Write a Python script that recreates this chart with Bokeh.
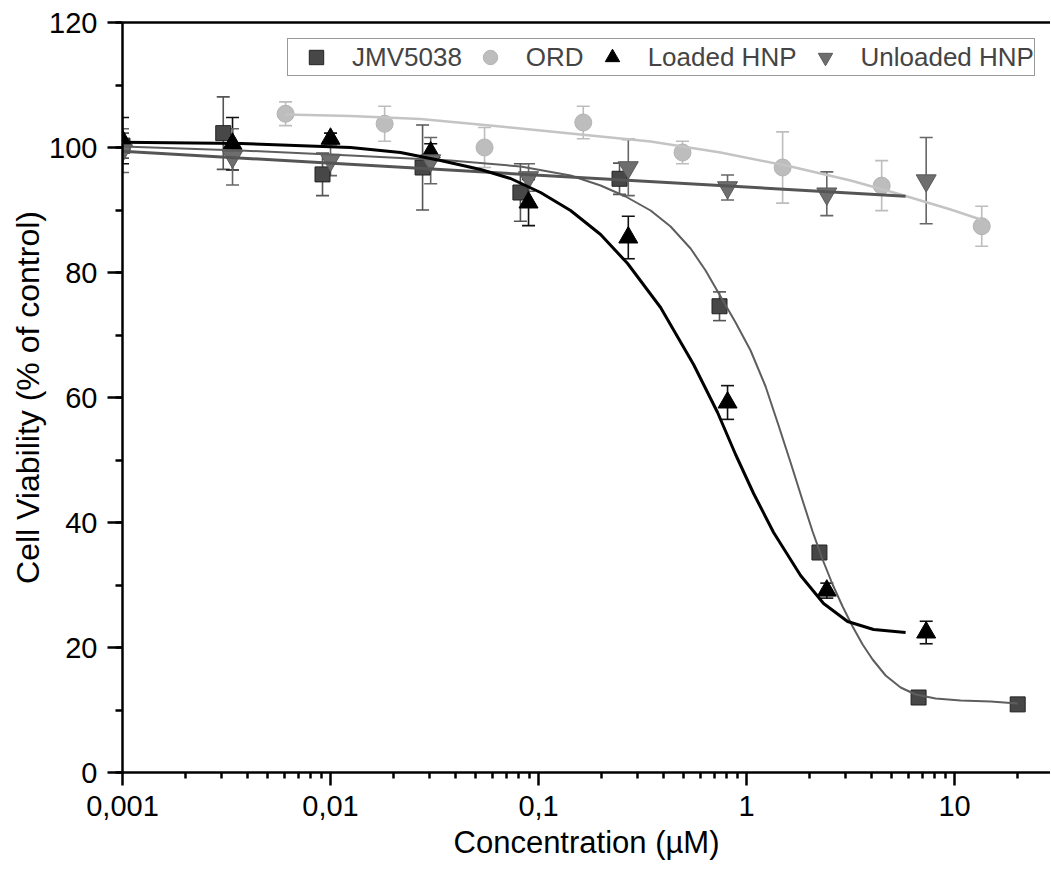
from bokeh.plotting import figure
from bokeh.models import (ColumnDataSource, Range1d, FixedTicker, SingleIntervalTicker,
                          LogAxis, Whisker, TeeHead, Legend, LegendItem)
from bokeh.embed import file_html
from bokeh.resources import INLINE

# ---------------- data ----------------
conc_jmv = [0.001, 0.00305, 0.00915, 0.0277, 0.0818, 0.245, 0.741, 2.24, 6.71, 20.1]
via_jmv = [100.3, 102.3, 95.7, 96.8, 92.8, 95.0, 74.6, 35.2, 12.0, 10.9]
err_jmv = [2.0, 5.8, 3.4, 6.8, 4.6, 2.5, 2.3, 1.0, 0.6, 0.6]

conc_ord = [0.00608, 0.0182, 0.0550, 0.164, 0.492, 1.49, 4.46, 13.5]
via_ord = [105.4, 103.8, 100.0, 104.0, 99.2, 96.8, 93.9, 87.4]
err_ord = [1.9, 2.8, 3.2, 2.6, 1.8, 5.7, 4.0, 3.2]

conc_loaded = [0.001, 0.00338, 0.0100, 0.0303, 0.0895, 0.270, 0.810, 2.43, 7.30]
via_loaded = [101.1, 100.6, 101.4, 99.2, 91.2, 85.6, 59.2, 29.1, 22.4]
err_loaded = [3.7, 4.2, 0.9, 1.4, 3.7, 3.4, 2.7, 1.2, 1.8]

conc_unloaded = [0.001, 0.00338, 0.0100, 0.0303, 0.0895, 0.270, 0.810, 2.43, 7.30]
via_unloaded = [99.5, 98.5, 98.0, 97.9, 95.2, 96.8, 93.6, 92.6, 94.7]
err_unloaded = [3.5, 4.5, 2.5, 3.7, 2.2, 4.5, 2.0, 3.5, 6.9]

# fitted curves
fit_jmv_x = [0.001, 0.003693, 0.012478, 0.03775, 0.08195, 0.1425, 0.1987, 0.2620, 0.3455,
             0.4311, 0.5381, 0.6351, 0.7499, 0.8854, 1.0452, 1.2339, 1.4247, 1.6273,
             1.8587, 2.0762, 2.3191, 2.5910, 2.8943, 3.2333, 3.6119, 4.0350, 4.6589,
             5.5015, 6.4938, 8.1035, 10.686, 14.90, 20.09]
fit_jmv_y = [100.16, 99.52, 98.72, 97.92, 96.96, 95.52, 93.92, 92.16, 89.92,
             87.36, 83.84, 80.32, 76.16, 72.0, 67.52, 61.76, 55.52, 49.6,
             43.52, 38.56, 34.08, 30.08, 26.56, 23.36, 20.48, 18.08, 15.52,
             13.6, 12.48, 11.84, 11.52, 11.36, 11.04]

fit_loaded_x = [0.001, 0.003693, 0.012478, 0.02170, 0.03379, 0.05263, 0.07334, 0.10224,
                0.1425, 0.1987, 0.2679, 0.3860, 0.5561, 0.7254, 0.8854, 1.0807, 1.3484,
                1.8180, 2.3449, 3.0590, 4.0797, 5.8134]
fit_loaded_y = [100.85, 100.64, 100.0, 99.2, 97.92, 96.48, 95.04, 92.8,
                89.92, 86.08, 81.44, 74.4, 65.28, 57.6, 50.88, 44.64, 38.4,
                31.52, 27.04, 24.16, 22.88, 22.4]

fit_ord_x = [0.006076, 0.01248, 0.02708, 0.06568, 0.1591, 0.3455, 0.7499, 1.627,
             3.162, 5.501, 9.568, 13.34]
fit_ord_y = [105.28, 105.04, 104.56, 103.36, 102.08, 100.96, 99.2, 96.96,
             94.72, 92.48, 90.08, 88.48]

fit_unloaded_x = [0.001, 5.81]
fit_unloaded_y = [99.4, 92.2]

x_tick_values = [0.001, 0.01, 0.1, 1, 10]
x_tick_labels = ["0,001", "0,01", "0,1", "1", "10"]
names = ["JMV5038", "ORD", "Loaded HNP", "Unloaded HNP"]

FONT = "Liberation Sans"

p = figure(width=1050, height=867, x_axis_type="log",
           x_range=Range1d(0.001, 28.9), y_range=Range1d(0, 120),
           output_backend="svg", toolbar_location=None,
           min_border_left=122, min_border_right=0, min_border_top=22,
           min_border_bottom=95)
p.outline_line_color = None
p.grid.visible = False
p.background_fill_color = "white"

# axes styling
minor = []
for d in x_tick_values:
    for k in range(2, 10):
        if k * d <= 28.9:
            minor.append(k * d)
p.xaxis.ticker = FixedTicker(ticks=x_tick_values, minor_ticks=minor)
p.xaxis.major_label_overrides = {v: s for v, s in zip(x_tick_values, x_tick_labels)}
p.yaxis.ticker = SingleIntervalTicker(interval=20, num_minor_ticks=2)

for ax in (p.xaxis[0], p.yaxis[0]):
    ax.axis_line_width = 2.5
    ax.axis_line_color = "black"
    ax.major_tick_line_width = 2.5
    ax.minor_tick_line_width = 2.5
    ax.major_tick_line_color = "black"
    ax.minor_tick_line_color = "black"
    ax.major_tick_in = 0
    ax.minor_tick_in = 0
    ax.major_label_text_font = FONT
    ax.major_label_text_font_size = "29px"
    ax.major_label_text_color = "black"
    ax.axis_label_text_font = FONT
    ax.axis_label_text_font_style = "normal"
    ax.axis_label_text_color = "black"

p.xaxis.major_tick_out = 13
p.xaxis.minor_tick_out = 6
p.xaxis.major_label_standoff = 10
p.xaxis.axis_label = "Concentration (µM)"
p.xaxis.axis_label_text_font_size = "31px"
p.xaxis.axis_label_standoff = 6
p.yaxis.major_tick_out = 15
p.yaxis.minor_tick_out = 7
p.yaxis.major_label_standoff = 10
p.yaxis.axis_label = "Cell Viability (% of control)"
p.yaxis.axis_label_text_font_size = "32px"
p.yaxis.axis_label_standoff = 0

top_axis = LogAxis(ticker=FixedTicker(ticks=[]), axis_line_width=2.5, axis_line_color="black",
                   major_tick_line_color=None, minor_tick_line_color=None)
p.add_layout(top_axis, "above")

# series
series = [
    (conc_jmv, via_jmv, err_jmv, "square", 15, "#474747", "#222222", "#555555"),
    (conc_ord, via_ord, err_ord, "circle", 17, "#bdbdbd", "#b3b3b3", "#bdbdbd"),
    (conc_loaded, via_loaded, err_loaded, "triangle", 19, "#000000", "#000000", "#111111"),
    (conc_unloaded, via_unloaded, err_unloaded, "inverted_triangle", 20, "#6e6e6e", "#5a5a5a", "#666666"),
]
renderers = []
for xs, ys, es, marker, size, fill, line, ecol in series:
    src = ColumnDataSource(dict(x=xs, y=ys,
                                upper=[y + e for y, e in zip(ys, es)],
                                lower=[y - e for y, e in zip(ys, es)]))
    w = Whisker(base="x", upper="upper", lower="lower", source=src, dimension="height",
                line_color=ecol, line_width=1.6,
                upper_head=TeeHead(size=13, line_color=ecol, line_width=1.6),
                lower_head=TeeHead(size=13, line_color=ecol, line_width=1.6))
    p.add_layout(w)
    r = p.scatter("x", "y", source=src, marker=marker, size=size,
                  fill_color=fill, line_color=line, line_width=1)
    renderers.append(r)

p.line(fit_ord_x, fit_ord_y, line_color="#c4c4c4", line_width=2.5)
p.line(fit_jmv_x, fit_jmv_y, line_color="#5e5e5e", line_width=2)
p.line(fit_unloaded_x, fit_unloaded_y, line_color="#555555", line_width=3)
p.line(fit_loaded_x, fit_loaded_y, line_color="#000000", line_width=3)

legend = Legend(items=[LegendItem(label=n, renderers=[r]) for n, r in zip(names, renderers)],
                orientation="horizontal", location=(165, 696),
                glyph_width=56, glyph_height=36, label_standoff=8, spacing=0,
                padding=0, margin=0,
                label_text_font=FONT, label_text_font_size="26px",
                border_line_color="#333333", border_line_width=1.5,
                background_fill_color="white", background_fill_alpha=1)
p.add_layout(legend, "center")

open("out.html", "w").write(file_html(p, INLINE))
